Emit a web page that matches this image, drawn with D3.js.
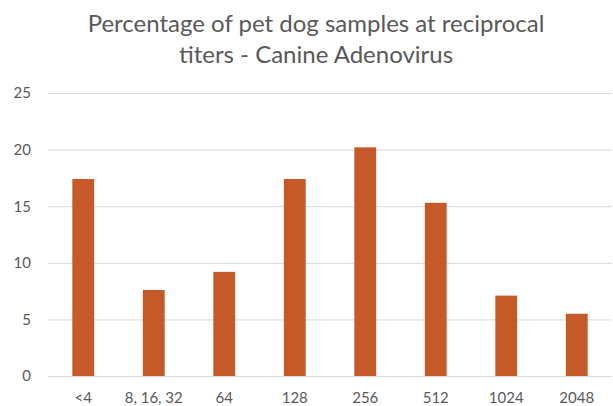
<!DOCTYPE html>
<html>
<head>
<meta charset="utf-8">
<script src="https://cdn.jsdelivr.net/npm/d3@7"></script>
<style>
  body { margin: 0; background: #fff; }
  svg { display: block; font-family: Lato, "Open Sans", sans-serif; }
</style>
</head>
<body>
<div id="chart"></div>
<script>
// Data
var categories = ["<4", "8, 16, 32", "64", "128", "256", "512", "1024", "2048"];
var percentages = [17.4, 7.6, 9.2, 17.4, 20.2, 15.3, 7.1, 5.5];
var yTicks = [0, 5, 10, 15, 20, 25];
var titleLines = ["Percentage of pet dog samples at reciprocal", "titers - Canine Adenovirus"];

var width = 613, height = 406;
var margin = { top: 93, right: 1, bottom: 30, left: 48 };
var innerW = width - margin.left - margin.right;
var innerH = height - margin.top - margin.bottom;

var svg = d3.select("#chart").append("svg")
    .attr("width", width)
    .attr("height", height);

// Title
svg.append("g").selectAll("text")
    .data(titleLines)
    .enter().append("text")
    .attr("x", 316)
    .attr("y", function (d, i) { return 32 + i * 31; })
    .attr("text-anchor", "middle")
    .attr("fill", "#595959")
    .attr("font-size", "24px")
    .text(function (d) { return d; });

var g = svg.append("g")
    .attr("transform", "translate(" + margin.left + "," + margin.top + ")");

var x = d3.scaleBand()
    .domain(categories)
    .range([0, innerW])
    .paddingInner(0.69)
    .paddingOuter(0.345);

var y = d3.scaleLinear()
    .domain([0, 25])
    .range([innerH, 0]);

// Gridlines + y labels
var yAxis = g.append("g")
    .call(d3.axisLeft(y).tickValues(yTicks).tickSize(-innerW).tickPadding(17));
yAxis.select(".domain").remove();
yAxis.selectAll(".tick line").attr("stroke", "#d9d9d9").attr("stroke-width", 1);
yAxis.selectAll(".tick text")
    .attr("fill", "#595959")
    .attr("font-size", "15px")
    .attr("font-family", "Lato, 'Open Sans', sans-serif");

// Bars
g.selectAll(".bar")
    .data(percentages)
    .enter().append("rect")
    .attr("class", "bar")
    .attr("x", function (d, i) { return x(categories[i]); })
    .attr("width", x.bandwidth())
    .attr("y", function (d) { return y(d); })
    .attr("height", function (d) { return innerH - y(d); })
    .attr("fill", "#c55a28");

// X labels
var xAxis = g.append("g")
    .attr("transform", "translate(0," + innerH + ")")
    .call(d3.axisBottom(x).tickSize(0).tickPadding(16));
xAxis.select(".domain").remove();
xAxis.selectAll(".tick text")
    .attr("fill", "#595959")
    .attr("font-size", "15px")
    .attr("font-family", "Lato, 'Open Sans', sans-serif");
</script>
</body>
</html>
